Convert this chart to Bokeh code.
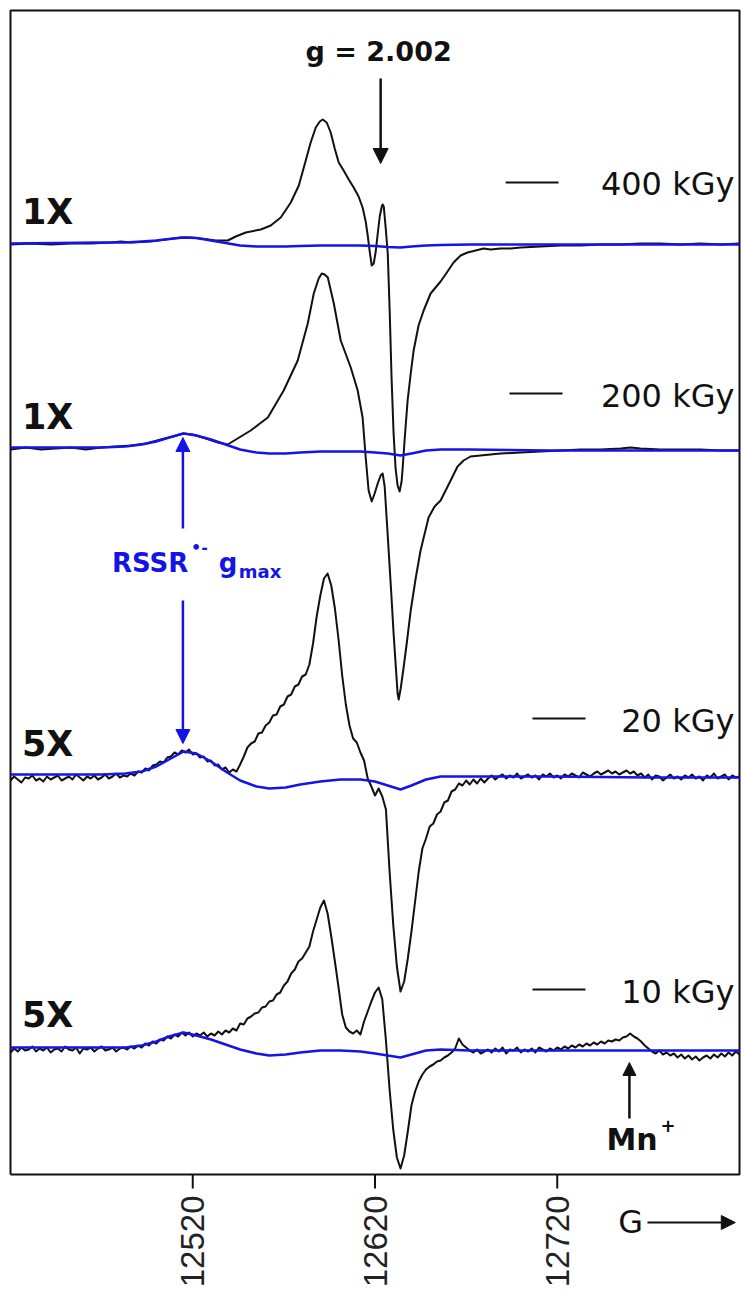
from math import pi
from bokeh.plotting import figure
from bokeh.models import Range1d, Label, Arrow, NormalHead
from bokeh.core.properties import value
from bokeh.embed import file_html
from bokeh.resources import INLINE

# ---------------- data ----------------
FIELD_MIN, FIELD_MAX = 12420, 12820          # magnetic field, G
TICKS = [12520, 12620, 12720]
DOSES = ["400 kGy", "200 kGy", "20 kGy", "10 kGy"]
GAINS = ["1X", "1X", "5X", "5X"]
OFFSETS = [931, 726, 398, 125]               # vertical stacking of spectra
PANEL_TOP = 1164                             # top of the spectrum box (signal units)

# 400 kGy spectrum (field G, signal a.u.)
x400 = [12420, 12431.2, 12442.2, 12453.2, 12464.1, 12475.1, 12480.6, 12486.1, 12497.0, 12505.2,
        12513.5, 12519.0, 12524.4, 12532.7, 12539.2, 12543.6, 12549.1, 12557.3, 12562.8, 12568.3,
        12573.8, 12578.2, 12582.0, 12584.7, 12587.5, 12589.7, 12591.3, 12593.5, 12595.7, 12597.9,
        12600.1, 12602.8, 12605.6, 12608.3, 12611.0, 12613.2, 12614.9, 12616.0, 12617.1, 12618.2,
        12619.3, 12620.4, 12621.5, 12622.6, 12623.7, 12624.2, 12624.8, 12625.9, 12627.0, 12628.1,
        12629.1, 12630.2, 12631.3, 12632.4, 12633.5, 12634.6, 12635.2, 12636.3, 12637.9, 12639.6,
        12641.2, 12643.9, 12646.7, 12650.5, 12656.0, 12659.8, 12663.1, 12667.0, 12670.8, 12675.2,
        12679.6, 12683.4, 12688.9, 12694.4, 12699.9, 12710.9, 12721.8, 12732.8, 12743.7, 12754.7,
        12765.7, 12776.6, 12787.6, 12798.6, 12809.5, 12820]
y400 = [-1, 0, -1, 0, 0, 1, 2, 1, 2, 4,
        6, 6, 5, 3, 3, 7, 11, 14, 18, 26,
        41, 58, 83, 101, 116, 122, 124, 121, 111, 95,
        81, 73, 64, 56, 47, 36, 22, 8, -8, -22,
        -20, -8, 10, 27, 37, 39, 37, 15, -10, -70,
        -135, -190, -225, -242, -248, -238, -224, -195, -157, -130,
        -107, -82, -67, -50, -38, -28, -19, -12, -9, -7,
        -5, -6, -5, -5, -4, -3, -2, -2, -1, -1,
        0, 0, -1, 0, -1, 0]

# 200 kGy spectrum
x200 = [12420, 12428.5, 12436.7, 12444.9, 12453.2, 12461.4, 12469.6, 12477.8, 12486.1, 12494.3,
        12502.5, 12509.1, 12514.6, 12520.0, 12527.2, 12533.8, 12539.2, 12546.4, 12551.8, 12561.2,
        12569.9, 12577.6, 12583.1, 12586.4, 12589.1, 12590.8, 12592.4, 12594.1, 12597.4, 12601.2,
        12606.7, 12610.5, 12613.2, 12614.9, 12616.5, 12618.2, 12619.8, 12621.5, 12623.1, 12624.2,
        12625.3, 12626.4, 12627.5, 12629.1, 12630.2, 12631.3, 12632.4, 12633.0, 12634.1, 12635.7,
        12637.4, 12639.6, 12642.3, 12645.0, 12649.4, 12652.7, 12656.0, 12661.5, 12665.3, 12668.6,
        12672.4, 12677.9, 12683.4, 12688.9, 12699.9, 12710.8, 12721.8, 12732.8, 12743.7, 12754.7,
        12760.2, 12765.7, 12776.6, 12787.6, 12798.5, 12809.5, 12820]
y200 = [-1, 1, -1, 0, 1, -1, 1, 2, 3, 5,
        9, 12, 15, 14, 10, 6, 4, 12, 18, 31,
        58, 88, 125, 155, 170, 175, 174, 171, 145, 108,
        81, 58, 31, -9, -42, -53, -45, -35, -27, -25,
        -38, -70, -102, -150, -185, -215, -245, -251, -240, -219,
        -195, -162, -130, -102, -69, -58, -52, -32, -18, -12,
        -8, -7, -6, -5, -4, -3, -2, -1, -1, 0,
        1, 0, -1, -1, -1, -2, -2]

# 20 kGy and 10 kGy spectra, sampled every 2 G
x_low = list(range(FIELD_MIN, FIELD_MAX + 1, 2))
y20 = [-4, 0, -3, -6, -1, -2, 1, -4, -2, -5,
       0, -3, -1, 1, -4, -2, 0, -3, 2, -1,
       -4, 0, -2, 1, -3, -1, 2, -2, 0, 3,
       -1, 1, 0, 3, 1, 5, 4, 8, 6, 11,
       12, 15, 14, 19, 20, 24, 22, 26, 24, 27,
       22, 23, 19, 20, 15, 16, 11, 12, 7, 9,
       4, 7, 5, 12, 20, 29, 33, 35, 43, 44,
       51, 54, 61, 62, 70, 72, 80, 82, 90, 92,
       100, 102, 112, 133, 160, 181, 198, 203, 191, 168,
       137, 101, 72, 51, 38, 34, 24, 16, -2, -10,
       -19, -12, -20, -33, -95, -148, -190, -215, -205, -182,
       -155, -125, -95, -72, -62, -50, -47, -38, -35, -26,
       -24, -15, -13, -7, -9, -4, -8, -3, -7, -2,
       -6, -2, 1, -3, 0, 2, -2, 1, -1, 3,
       -2, 0, 2, -1, 1, -3, 2, 0, 3, -1,
       1, -2, 2, 0, 3, 1, -1, 4, 2, 0,
       3, 5, 2, 4, 6, 3, 5, 2, 4, 6,
       3, 5, 1, 3, -1, 2, -3, 1, 0, -4,
       -1, 2, -2, 0, -3, 1, -1, 2, -2, 0,
       -4, 1, -1, 3, -2, 0, 2, -3, 1, -1,
       0]
y10 = [-3, 1, -2, 2, -1, 0, 3, -2, 1, -1,
       2, -3, 0, 1, -2, 3, 0, -1, 2, -4,
       1, 0, 2, -2, 1, 3, -1, 0, 2, -2,
       1, 2, 0, 3, 1, 4, 2, 6, 4, 8,
       6, 10, 9, 13, 11, 15, 13, 17, 14, 17,
       13, 16, 14, 17, 13, 16, 14, 18, 15, 19,
       17, 21, 19, 26, 25, 31, 33, 36, 37, 42,
       43, 48, 49, 55, 57, 64, 68, 76, 80, 88,
       91, 97, 103, 118, 130, 142, 149, 136, 113, 88,
       62, 35, 22, 18, 16, 19, 15, 28, 38, 48,
       57, 62, 50, 9, -40, -80, -108, -119, -106, -82,
       -56, -42, -32, -25, -20, -17, -15, -12, -11, -8,
       -6, -3, 1, 11, 5, 2, -1, -3, 0, -4,
       -2, 0, -3, 1, -2, 2, -4, 0, -1, 2,
       -3, 0, -2, 1, -3, 2, 0, -2, 1, -1,
       2, 0, 3, 1, 4, 2, 5, 3, 6, 4,
       7, 5, 8, 6, 9, 8, 10, 9, 12, 13,
       16, 13, 11, 8, 4, 1, -2, -4, -1, -5,
       -3, -6, -4, -8, -5, -9, -6, -10, -7, -11,
       -8, -6, -9, -5, -8, -4, -7, -3, -6, -2,
       -5]

# simulated RSSR•- spectra (blue)
x_sim = [12420, 12470, 12483, 12492, 12500, 12507, 12515, 12522, 12530, 12538,
         12546, 12555, 12562, 12571, 12579, 12590, 12601, 12612, 12620, 12627,
         12634, 12640, 12648, 12656, 12672, 12716, 12771, 12820]
sim400 = [0, 1, 1, 2, 3, 4.5, 6, 5.5, 3, 0.5,
          -2, -3, -3, -3, -2.5, -2, -2, -2, -2.5, -3.5,
          -4, -3, -2, -1.5, -1, -1, -1, -1]
sim200 = [1, 1, 2, 4, 7, 11, 15, 13, 9, 4,
          -1, -4, -5, -5, -4, -3, -3, -3, -4, -5,
          -7, -5, -2, -1, -1, -2, -2, -2]
sim20 = [2, 2, 3, 5, 10, 17, 25, 23, 15, 5,
         -4, -10, -12, -11, -8, -5, -3, -3, -5, -9,
         -13, -9, -3, 0, 0, 0, -1, -1]
sim10 = [2, 2, 2, 4, 8, 13, 17, 14, 10, 5,
         0, -4, -6, -5, -3, -1, -1, -2, -4, -6,
         -8, -5, -1, 0, -1, -1, -1, -1]

EXP = [(x400, y400), (x200, y200), (x_low, y20), (x_low, y10)]
SIM = [sim400, sim200, sim20, sim10]

# ---------------- figure ----------------
BLUE = "#1414e6"
INK = "#111111"
FONT = "DejaVu Sans"
W, H = 742, 1291
PX_PER_G = 729 / (FIELD_MAX - FIELD_MIN)
X0 = FIELD_MIN - 10 / PX_PER_G
Y0 = -(H - 10 - PANEL_TOP)          # canvas bottom in signal units (1 unit = 1 px)

p = figure(width=W, height=H,
           x_range=Range1d(X0, X0 + W / PX_PER_G), y_range=Range1d(Y0, Y0 + H),
           output_backend="svg", toolbar_location=None,
           min_border_left=0, min_border_right=0, min_border_top=0, min_border_bottom=0)
p.background_fill_color = "white"
p.border_fill_color = "white"
p.outline_line_color = None
p.xgrid.visible = False
p.ygrid.visible = False
p.xaxis.visible = False
p.yaxis.visible = False

# spectrum box and field axis
p.line([FIELD_MIN, FIELD_MIN, FIELD_MAX, FIELD_MAX, FIELD_MIN], [0, PANEL_TOP, PANEL_TOP, 0, 0],
       line_color=INK, line_width=2)
p.segment(x0=TICKS, y0=[0] * len(TICKS), x1=TICKS, y1=[-14] * len(TICKS),
          line_color=INK, line_width=2)
p.text(x=TICKS, y=[-21] * len(TICKS), text=[str(t) for t in TICKS], angle=pi / 2,
       text_align="right", text_baseline="middle", text_font=value("Liberation Sans"),
       text_font_size="33px", text_color="#222222")

for (xs, ys), sim, off in zip(EXP, SIM, OFFSETS):
    p.line(xs, [v + off for v in ys], line_color=INK, line_width=2, line_join="round")
    p.line(x_sim, [v + off for v in sim], line_color=BLUE, line_width=2.5, line_join="round")

# legend marks and dose labels
leg_x0 = [12691.7, 12693.8, 12706.4, 12706.4]
leg_x1 = [12720.7, 12722.9, 12735.5, 12735.5]
leg_y = [992, 781, 456, 185]
text_base = [991, 779, 454, 183]
gain_base = [963, 758, 431, 160]
p.segment(x0=leg_x0, y0=leg_y, x1=leg_x1, y1=leg_y, line_color=INK, line_width=2)
for dose, gain, tb, gb in zip(DOSES, GAINS, text_base, gain_base):
    p.add_layout(Label(x=12817.2, y=tb, text=dose, text_align="right", text_baseline="alphabetic",
                       text_font=FONT, text_font_size="32px", text_color=INK))
    p.add_layout(Label(x=12426.3, y=gb, text=gain, text_align="left", text_baseline="alphabetic",
                       text_font=FONT, text_font_style="bold", text_font_size="35px", text_color=INK))

# g = 2.002 marker
p.add_layout(Label(x=12622.0, y=1123, text="g = 2.002", text_align="center", text_baseline="alphabetic",
                   text_font=FONT, text_font_style="bold", text_font_size="27px", text_color=INK))
p.add_layout(Arrow(end=NormalHead(size=15, fill_color=INK, line_color=INK),
                   x_start=12623.1, y_start=1096, x_end=12623.1, y_end=1011,
                   line_color=INK, line_width=2.5))

# Mn+ marker
p.add_layout(Arrow(end=NormalHead(size=13, fill_color=INK, line_color=INK),
                   x_start=12759.6, y_start=56, x_end=12759.6, y_end=112,
                   line_color=INK, line_width=2.5))
p.add_layout(Label(x=12747.0, y=35, text="Mn", text_align="left", text_baseline="alphabetic",
                   text_font=FONT, text_font_style="bold", text_font_size="30px", text_color=INK))
p.add_layout(Label(x=12776.6, y=49, text="+", text_align="left", text_baseline="alphabetic",
                   text_font=FONT, text_font_style="bold", text_font_size="18px", text_color=INK))

# RSSR•- g_max marker
p.add_layout(Arrow(end=NormalHead(size=14, fill_color=BLUE, line_color=BLUE),
                   x_start=12514.6, y_start=646, x_end=12514.6, y_end=737,
                   line_color=BLUE, line_width=2.5))
p.add_layout(Arrow(end=NormalHead(size=14, fill_color=BLUE, line_color=BLUE),
                   x_start=12514.6, y_start=574, x_end=12514.6, y_end=431,
                   line_color=BLUE, line_width=2.5))
p.add_layout(Label(x=12475.7, y=612, text="RSSR", text_align="left", text_baseline="alphabetic",
                   text_font=FONT, text_font_style="bold", text_font_size="26px", text_color=BLUE))
p.add_layout(Label(x=12519.0, y=627, text="\u2022-", text_align="left", text_baseline="alphabetic",
                   text_font=FONT, text_font_style="bold", text_font_size="16px", text_color=BLUE))
p.add_layout(Label(x=12534.3, y=612, text="g", text_align="left", text_baseline="alphabetic",
                   text_font=FONT, text_font_style="bold", text_font_size="26px", text_color=BLUE))
p.add_layout(Label(x=12545.3, y=603, text="max", text_align="left", text_baseline="alphabetic",
                   text_font=FONT, text_font_style="bold", text_font_size="18px", text_color=BLUE))

# field axis label "G ->"
p.add_layout(Label(x=12753.5, y=-47, text="G", text_align="left", text_baseline="alphabetic",
                   text_font=FONT, text_font_size="32px", text_color=INK))
p.add_layout(Arrow(end=NormalHead(size=14, fill_color=INK, line_color=INK),
                   x_start=12769.5, y_start=-48, x_end=12817.7, y_end=-48,
                   line_color=INK, line_width=2))

open("out.html", "w").write(file_html(p, INLINE))
